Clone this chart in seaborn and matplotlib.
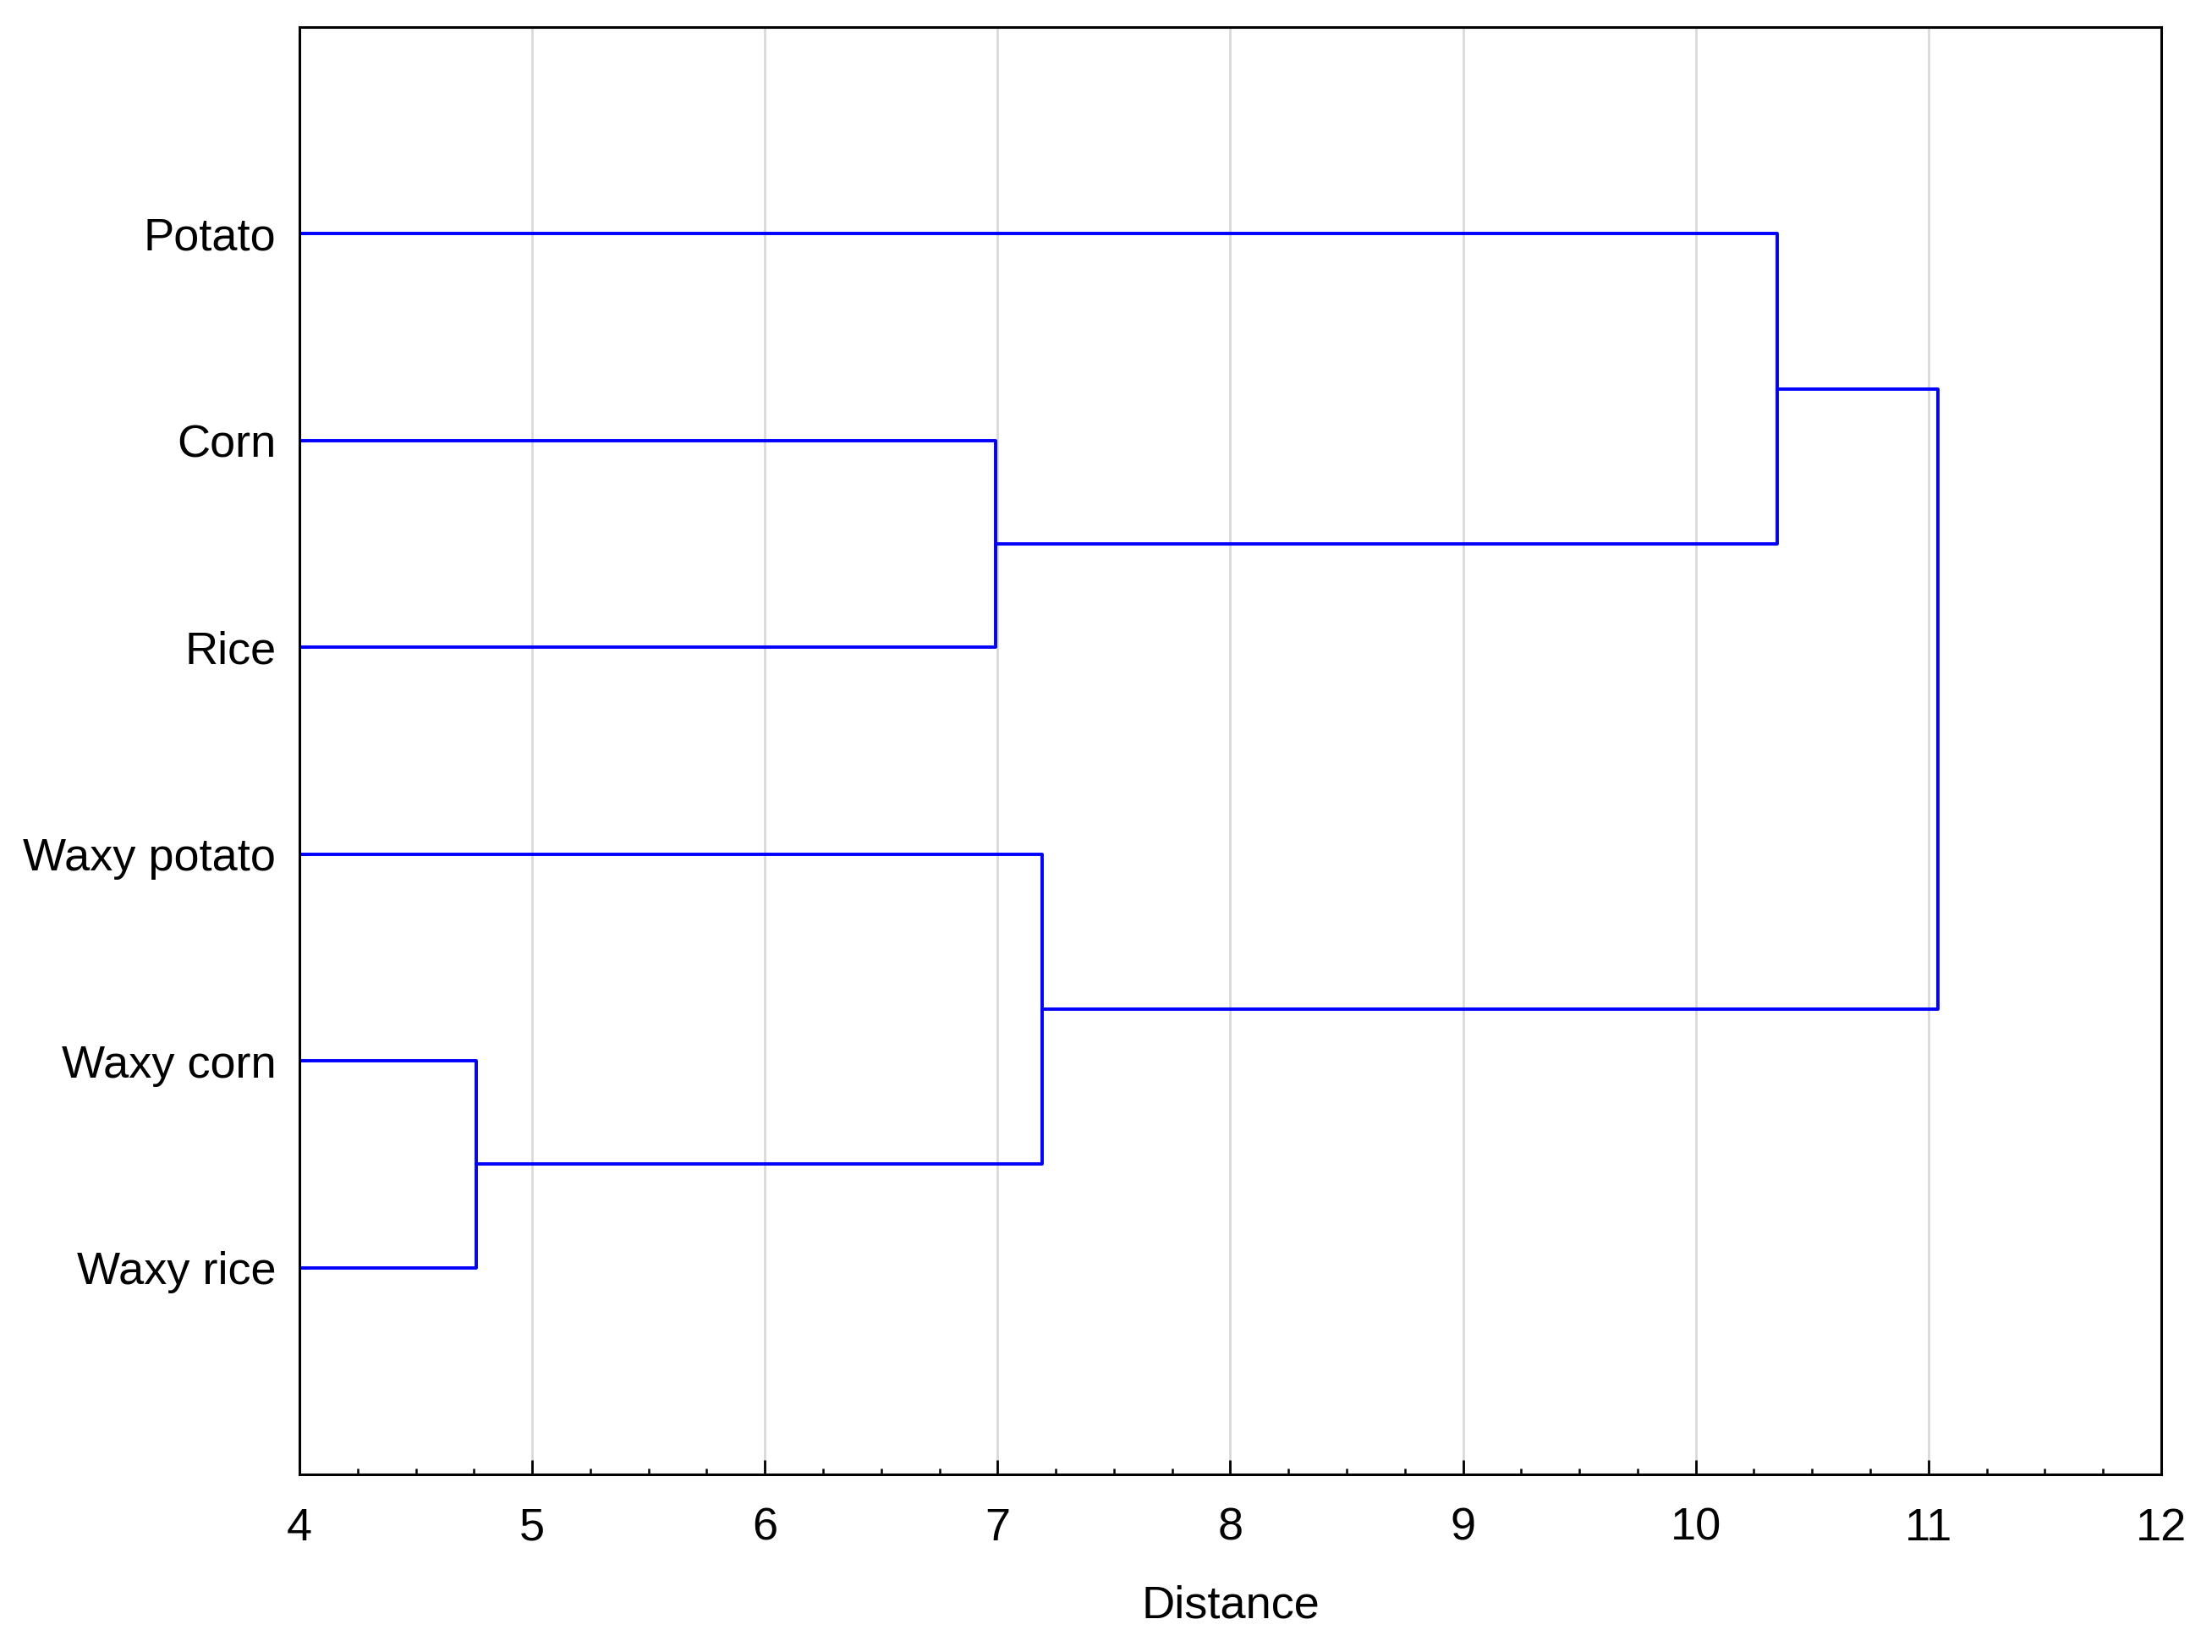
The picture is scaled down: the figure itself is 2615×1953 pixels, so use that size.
import numpy as np
import pandas as pd
import matplotlib
matplotlib.use('Agg')
import matplotlib.pyplot as plt
import seaborn as sns
from matplotlib.ticker import MultipleLocator

# Data: leaves (top to bottom) and merge steps (scipy-like linkage: a, b, distance)
labels = ['Potato', 'Corn', 'Rice', 'Waxy potato', 'Waxy corn', 'Waxy rice']
merge_a = [4, 1, 3, 0, 8]
merge_b = [5, 2, 6, 7, 9]
merge_dist = [4.76, 6.99, 7.19, 10.35, 11.04]
x_ticks = [4, 5, 6, 7, 8, 9, 10, 11, 12]

# build the link paths (U shapes) from the merges
n = len(labels)
pos = {i: (float(i), 4.0) for i in range(n)}  # node -> (y position, height)
rows = []
for k, (a, b, d) in enumerate(zip(merge_a, merge_b, merge_dist)):
    ya, ha = pos[a]
    yb, hb = pos[b]
    for j, (xx, yy) in enumerate([(ha, ya), (d, ya), (d, yb), (hb, yb)]):
        rows.append({'link': k, 'order': j, 'x': xx, 'y': yy})
    pos[n + k] = ((ya + yb) / 2, d)
links = pd.DataFrame(rows)

sns.set_style('white')
plt.rcParams['font.family'] = ['Liberation Sans', 'DejaVu Sans']
plt.rcParams['text.color'] = 'black'
plt.rcParams['axes.labelcolor'] = 'black'
plt.rcParams['xtick.color'] = 'black'
plt.rcParams['ytick.color'] = 'black'

fig = plt.figure(figsize=(13.075, 9.765), dpi=200)
ax = fig.add_axes([0.1354, 0.1075, 0.977 - 0.1354, 0.9836 - 0.1075])

sns.lineplot(data=links, x='x', y='y', units='link', estimator=None,
             sort=False, color='#0000ff', linewidth=1.4, ax=ax, legend=False)

ax.set_xlim(4, 12)
ax.set_ylim(n, -1)
ax.set_xticks(x_ticks)
ax.set_xticklabels([str(t) for t in x_ticks])
ax.xaxis.set_minor_locator(MultipleLocator(0.25))
ax.set_yticks(range(n))
ax.set_yticklabels(labels)

ax.grid(axis='x', which='major', color='#d9d9d9', linewidth=1.0)
ax.set_axisbelow(True)

for s in ax.spines.values():
    s.set_visible(True)
    s.set_color('black')
    s.set_linewidth(1.1)

ax.tick_params(axis='x', which='major', direction='in', length=6, width=1.0,
               pad=14, labelsize=19.5, bottom=True, top=False,
               colors='black', labelcolor='black')
ax.tick_params(axis='x', which='minor', direction='in', length=2.5, width=0.9,
               bottom=True, top=False, colors='black')
ax.tick_params(axis='y', which='major', direction='in', length=3.2, width=1.0,
               pad=10, labelsize=19.5, left=True, right=False,
               colors='black', labelcolor='black')

ax.set_xlabel('Distance', fontsize=19.5, labelpad=15, color='black')
ax.set_ylabel('')

fig.savefig('out.png', dpi=200)
